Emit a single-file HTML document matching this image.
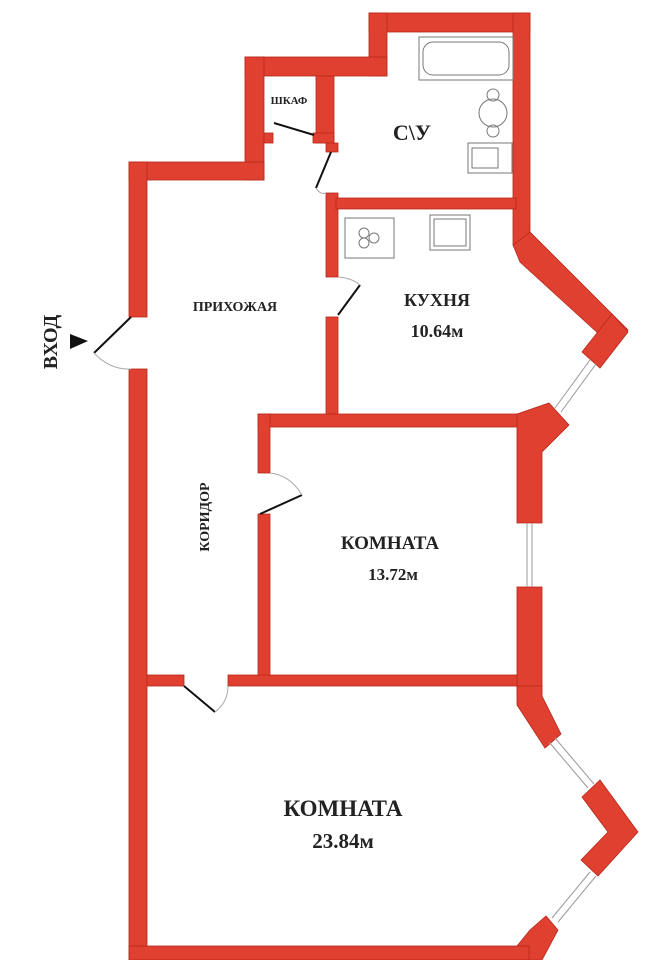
<!DOCTYPE html>
<html><head><meta charset="utf-8"><style>
html,body{margin:0;padding:0;background:#fff;}
svg{display:block}
text{font-family:"Liberation Serif",serif;font-weight:bold;fill:#222;}
</style></head><body>
<svg width="650" height="960" viewBox="0 0 650 960" xmlns="http://www.w3.org/2000/svg">
<rect width="650" height="960" fill="#fff"/>
<g fill="#e0402f" stroke="#b8281c" stroke-width="0.8">
<!-- SU top block -->
<rect x="369" y="13" width="161" height="19"/>
<rect x="369" y="13" width="18" height="63"/>
<rect x="513" y="13" width="17" height="232"/>
<!-- shkaf top -->
<rect x="245" y="57" width="142" height="19"/>
<rect x="245" y="57" width="19" height="123"/>
<rect x="316" y="76" width="18" height="67"/>
<!-- shkaf bottom with door gap -->
<rect x="264" y="133" width="9" height="10"/>
<rect x="313" y="133" width="21" height="10"/>
<!-- main top left -->
<rect x="129" y="162" width="135" height="18"/>
<!-- left outer wall -->
<rect x="129" y="162" width="18" height="155"/>
<rect x="129" y="369" width="18" height="591"/>
<!-- prihozhaya / SU-kitchen wall -->
<rect x="326" y="143" width="12" height="9"/>
<rect x="326" y="193" width="12" height="84"/>
<rect x="326" y="317" width="12" height="100"/>
<!-- SU / kitchen wall -->
<rect x="336" y="198" width="180" height="11"/>
<!-- diagonal kitchen wall -->
<polygon points="513,245 530,232 628,330 612,346 520,262"/>
<polygon points="612,314 628,332 600,368 582,352"/>
<!-- kitchen bottom / 13.72 top wall -->
<rect x="258" y="414" width="262" height="13"/>
<polygon points="517,414 549,403 569,425 542,452 542,523 517,523"/>
<!-- 13.72 left wall -->
<rect x="258" y="414" width="12" height="59"/>
<rect x="258" y="514" width="12" height="171"/>
<!-- right wall lower -->
<rect x="517" y="587" width="25" height="109"/>
<polygon points="517,686 542,686 542,696 561,734 545,748 517,705"/>
<!-- middle wall -->
<rect x="147" y="675" width="37" height="11"/>
<rect x="228" y="675" width="289" height="11"/>
<!-- chevron bottom right -->
<polygon points="582,797 600,780 638,832 598,876 581,860 608,832"/>
<!-- bottom right block -->
<polygon points="530,930 546,916 558,930 542,960 517,960 517,946"/>
<rect x="129" y="946" width="400" height="14"/>
</g>
<!-- windows -->
<g stroke="#999" stroke-width="1" fill="none">
<line x1="590" y1="360" x2="555" y2="408"/><line x1="596" y1="364" x2="561" y2="412"/>
<line x1="527" y1="523" x2="527" y2="587"/><line x1="532" y1="523" x2="532" y2="587"/>
<line x1="549" y1="742" x2="588" y2="788"/><line x1="555" y1="738" x2="594" y2="784"/>
<line x1="590" y1="872" x2="552" y2="918"/><line x1="596" y1="876" x2="558" y2="922"/>
</g>
<!-- doors -->
<g stroke="#111" stroke-width="2" fill="none">
<line x1="131" y1="317" x2="94" y2="353"/>
<line x1="274" y1="123" x2="314" y2="135"/>
<line x1="316" y1="188" x2="331" y2="152"/>
<line x1="338" y1="315" x2="360" y2="285"/>
<line x1="260" y1="514" x2="302" y2="495"/>
<line x1="184" y1="686" x2="215" y2="712"/>
</g>
<g stroke="#aaa" stroke-width="1" fill="none">
<path d="M94,353 Q110,370 131,369"/>
<path d="M360,285 Q352,278 338,277"/>
<path d="M302,495 Q290,475 270,473"/>
<path d="M215,712 Q228,702 228,686"/>
<path d="M316,188 Q320,195 326,193"/>
</g>
<!-- fixtures -->
<g stroke="#777" stroke-width="1" fill="none">
<rect x="419" y="37" width="94" height="43"/><rect x="423" y="42" width="86" height="33" rx="10"/>
<circle cx="493" cy="113" r="14"/><circle cx="493" cy="95" r="6"/><circle cx="493" cy="131" r="6"/>
<rect x="468" y="143" width="44" height="30"/><rect x="472" y="148" width="26" height="20"/>
<rect x="345" y="218" width="49" height="40"/><circle cx="364" cy="233" r="5"/><circle cx="374" cy="238" r="5"/><circle cx="364" cy="243" r="5"/>
<rect x="430" y="215" width="40" height="35"/><rect x="434" y="219" width="32" height="27"/>
</g>
<!-- labels -->
<text x="289" y="104" font-size="11" text-anchor="middle">ШКАФ</text>
<text x="412" y="140" font-size="22" text-anchor="middle">С\У</text>
<text x="235" y="311" font-size="14" text-anchor="middle">ПРИХОЖАЯ</text>
<text x="437" y="306" font-size="18" text-anchor="middle">КУХНЯ</text>
<text x="437" y="337" font-size="18" text-anchor="middle">10.64м</text>
<text x="390" y="549" font-size="19" text-anchor="middle">КОМНАТА</text>
<text x="393" y="580" font-size="17" text-anchor="middle">13.72м</text>
<text x="343" y="816" font-size="23" text-anchor="middle">КОМНАТА</text>
<text x="343" y="848" font-size="21" text-anchor="middle">23.84м</text>
<text transform="translate(209,517) rotate(-90)" font-size="14" text-anchor="middle">КОРИДОР</text>
<text transform="translate(57,342) rotate(-90)" font-size="20" text-anchor="middle">ВХОД</text>
<polygon points="70,334 70,349 88,341" fill="#111"/>
</svg>
</body></html>
